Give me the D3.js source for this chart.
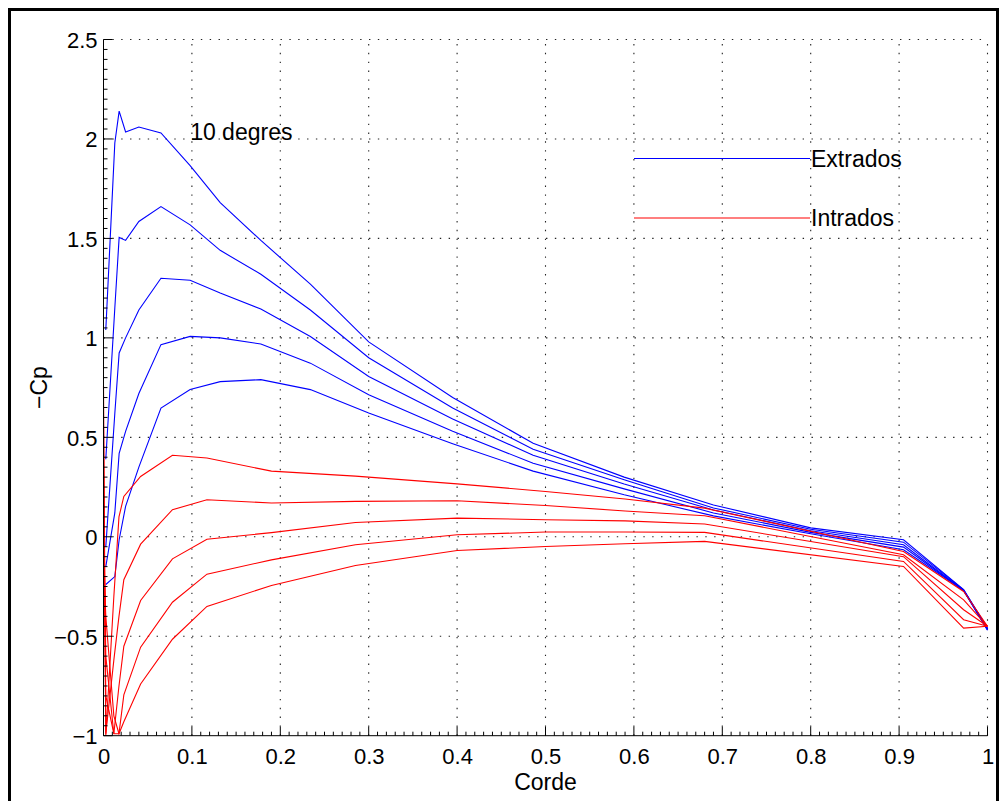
<!DOCTYPE html>
<html>
<head>
<meta charset="utf-8">
<script src="https://cdn.jsdelivr.net/npm/d3@7"></script>
<style>
  html, body { margin: 0; padding: 0; background: #fff; }
  svg { display: block; font-family: "Liberation Sans", Arial, Helvetica, sans-serif; }
</style>
</head>
<body>
<svg id="chart" width="1000" height="801"></svg>
<script>
// ---------- data ----------
const xTicks = [0, 0.1, 0.2, 0.3, 0.4, 0.5, 0.6, 0.7, 0.8, 0.9, 1];
const xTickLabels = ["0", "0.1", "0.2", "0.3", "0.4", "0.5", "0.6", "0.7", "0.8", "0.9", "1"];
const yTicks = [-1, -0.5, 0, 0.5, 1, 1.5, 2, 2.5];
const yTickLabels = ["\u22121", "\u22120.5", "0", "0.5", "1", "1.5", "2", "2.5"];

// extrados (upper surface) chord stations
const xExtrados = [0.0026, 0.0128, 0.0177, 0.025, 0.04, 0.065, 0.098, 0.132, 0.178, 0.234, 0.30, 0.395, 0.486, 0.589, 0.69, 0.80, 0.905, 0.973, 1.0];
const extrados1 = [1.04, 1.98, 2.14, 2.035, 2.06, 2.03, 1.866, 1.68, 1.49, 1.27, 0.98, 0.70, 0.47, 0.30, 0.16, 0.045, -0.015, -0.265, -0.46];
const extrados2 = [0.39, 1.15, 1.505, 1.49, 1.585, 1.66, 1.568, 1.44, 1.32, 1.14, 0.90, 0.647, 0.44, 0.287, 0.145, 0.038, -0.027, -0.267, -0.46];
const extrados3 = [-0.05, 0.62, 0.924, 1.0, 1.14, 1.30, 1.29, 1.226, 1.145, 1.007, 0.806, 0.592, 0.41, 0.265, 0.135, 0.03, -0.04, -0.27, -0.465];
const extrados4 = [-0.15, 0.12, 0.42, 0.53, 0.72, 0.966, 1.0075, 1.0, 0.969, 0.873, 0.714, 0.53, 0.37, 0.241, 0.12, 0.022, -0.052, -0.27, -0.468];
const extrados5 = [-0.24, -0.2, -0.015, 0.153, 0.35, 0.647, 0.74, 0.78, 0.79, 0.74, 0.622, 0.468, 0.33, 0.211, 0.105, 0.015, -0.065, -0.27, -0.47];

// intrados (lower surface) chord stations
const xIntrados = [0, 0.0026, 0.0117, 0.0175, 0.023, 0.042, 0.078, 0.117, 0.19, 0.285, 0.40, 0.50, 0.59, 0.68, 0.905, 0.973, 1.0];
const intrados1 = [0.76, -1.0, -0.3, 0.1, 0.203, 0.303, 0.41, 0.396, 0.33, 0.305, 0.266, 0.228, 0.19, 0.144, -0.074, -0.275, -0.45];
const intrados2 = [0.55, -0.99, -0.62, -0.4, -0.216, -0.037, 0.136, 0.186, 0.17, 0.178, 0.181, 0.157, 0.13, 0.106, -0.09, -0.317, -0.45];
const intrados3 = [0.3, -0.8, -0.99, -0.75, -0.55, -0.32, -0.111, -0.012, 0.021, 0.072, 0.094, 0.086, 0.08, 0.064, -0.10, -0.367, -0.45];
const intrados4 = [0.1, -0.6, -0.99, -0.99, -0.795, -0.555, -0.329, -0.188, -0.116, -0.04, 0.01, 0.024, 0.024, 0.022, -0.124, -0.417, -0.45];
const intrados5 = [-0.1, -0.4, -0.9, -0.99, -0.93, -0.74, -0.515, -0.35, -0.245, -0.144, -0.069, -0.049, -0.035, -0.023, -0.149, -0.459, -0.45];

const extradosSeries = [extrados1, extrados2, extrados3, extrados4, extrados5];
const intradosSeries = [intrados1, intrados2, intrados3, intrados4, intrados5];
const legendLabels = ["Extrados", "Intrados"];
const annotation = "10 degres";
const xLabel = "Corde";
const yLabel = "\u2212Cp";

// ---------- layout ----------
const svg = d3.select("#chart");
const X0 = 103.5, X1 = 987.5, Y0 = 735.7, Y1 = 39.5;
const x = d3.scaleLinear().domain([0, 1]).range([X0, X1]);
const y = d3.scaleLinear().domain([-1, 2.5]).range([Y0, Y1]);
const BLUE = "#0000ff", RED = "#ff0000";

// outer figure frame
svg.append("path")
  .attr("d", "M9.5,812 V9.5 H997.5 V812")
  .attr("fill", "none").attr("stroke", "#000").attr("stroke-width", 3);

// grid (dotted)
const grid = svg.append("g").attr("stroke", "#222").attr("stroke-width", 1.1)
  .attr("stroke-dasharray", "1.4,7.45");
xTicks.filter(v => v > 0).forEach(v => {
  grid.append("line").attr("x1", x(v)).attr("x2", x(v)).attr("y1", y(-1)).attr("y2", y(2.5));
});
yTicks.filter(v => v > -1).forEach(v => {
  grid.append("line").attr("x1", x(0)).attr("x2", x(1)).attr("y1", y(v)).attr("y2", y(v));
});

// curves
const lineExt = d3.line().x((d, i) => x(xExtrados[i])).y(d => y(d));
const lineInt = d3.line().x((d, i) => x(xIntrados[i])).y(d => y(d));
const curves = svg.append("g").attr("fill", "none").attr("stroke-width", 1.1).attr("stroke-linejoin", "miter");
extradosSeries.forEach(s => curves.append("path").attr("d", lineExt(s)).attr("stroke", BLUE));
intradosSeries.forEach(s => curves.append("path").attr("d", lineInt(s)).attr("stroke", RED));

// axes
const xAxis = d3.axisBottom(x).tickValues(xTicks).tickSize(0).tickFormat((d, i) => xTickLabels[i]);
const yAxis = d3.axisLeft(y).tickValues(yTicks).tickSize(0).tickFormat((d, i) => yTickLabels[i]);

const gx = svg.append("g").attr("transform", `translate(0,${Y0})`).call(xAxis);
gx.select(".domain").remove();
gx.selectAll("text").attr("font-size", 22).attr("fill", "#000").attr("dy", null).attr("y", 28.5)
  .attr("font-family", "Liberation Sans, Arial, sans-serif");

const gy = svg.append("g").attr("transform", `translate(${X0},0)`).call(yAxis);
gy.select(".domain").remove();
gy.selectAll("text").attr("font-size", 22).attr("fill", "#000").attr("x", -6).attr("dy", "0.36em")
  .attr("font-family", "Liberation Sans, Arial, sans-serif");

const axes = svg.append("g").attr("stroke", "#000").attr("stroke-width", 1);
axes.append("line").attr("x1", X0).attr("x2", X0).attr("y1", Y0).attr("y2", Y1);
axes.append("line").attr("x1", X0).attr("x2", X1).attr("y1", Y0).attr("y2", Y0);
// major ticks (inward)
xTicks.forEach(v => axes.append("line").attr("x1", x(v)).attr("x2", x(v)).attr("y1", Y0).attr("y2", Y0 - 9));
yTicks.forEach(v => axes.append("line").attr("x1", X0).attr("x2", X0 + 9).attr("y1", y(v)).attr("y2", y(v)));
// minor ticks
d3.range(0, 101).forEach(k => {
  if (k % 10 === 0) return;
  const v = k / 100;
  axes.append("line").attr("x1", x(v)).attr("x2", x(v)).attr("y1", Y0).attr("y2", Y0 - 4);
});
d3.range(-20, 51).forEach(k => {
  if (k % 10 === 0) return;
  const v = k / 20;
  axes.append("line").attr("x1", X0).attr("x2", X0 + 4).attr("y1", y(v)).attr("y2", y(v));
});

// axis labels
svg.append("text").attr("x", (X0 + X1) / 2).attr("y", 790).attr("text-anchor", "middle")
  .attr("font-size", 23).text(xLabel);
svg.append("text").attr("transform", `translate(47,${y(0.75)}) rotate(-90)`).attr("text-anchor", "middle")
  .attr("font-size", 23).text(yLabel);

// annotation
svg.append("text").attr("x", x(0.098)).attr("y", 139.5).attr("font-size", 23).text(annotation);

// legend
const legend = svg.append("g");
[[BLUE, 158.5, legendLabels[0]], [RED, 218, legendLabels[1]]].forEach(([c, ly, lab]) => {
  legend.append("line").attr("x1", 634).attr("x2", 810).attr("y1", ly).attr("y2", ly)
    .attr("stroke", c).attr("stroke-width", 1.1);
  legend.append("text").attr("x", 811).attr("y", ly + 8.3).attr("font-size", 23).text(lab);
});
</script>
</body>
</html>
